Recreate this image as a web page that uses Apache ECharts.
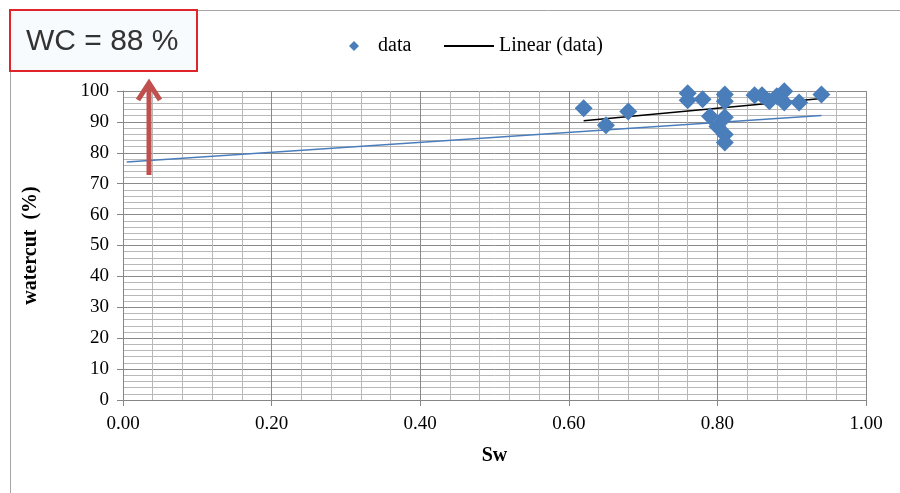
<!DOCTYPE html>
<html>
<head>
<meta charset="utf-8">
<script src="https://cdn.jsdelivr.net/npm/echarts@6/dist/echarts.min.js"></script>
<style>html,body{margin:0;padding:0;background:#fff;}#c{width:900px;height:493px;}</style>
</head>
<body>
<div id="c"></div>
<script>
// Scatter data (Sw, watercut %)
var swData = [0.62, 0.65, 0.68, 0.76, 0.76, 0.78, 0.79, 0.81, 0.81, 0.80, 0.81, 0.81, 0.81, 0.85, 0.86, 0.87, 0.88, 0.89, 0.89, 0.91, 0.94];
var wcData = [94.4, 88.9, 93.4, 99.3, 97.0, 97.3, 91.8, 98.9, 96.7, 88.5, 91.5, 85.9, 83.3, 98.6, 98.6, 96.7, 98.3, 99.9, 96.3, 96.3, 98.9];
// Linear trend (black) endpoints
var trendSw = [0.62, 0.94];
var trendWc = [90.4, 97.6];
// Blue reference line endpoints
var refSw = [0.005, 0.94];
var refWc = [77.0, 92.1];
// Axis ticks
var xTicks = [0, 0.2, 0.4, 0.6, 0.8, 1.0];
var yTicks = [0, 10, 20, 30, 40, 50, 60, 70, 80, 90, 100];
var annotation = 'WC = 88 %';

var scatterPts = swData.map(function (s, i) { return [s, wcData[i]]; });
var trendPts = trendSw.map(function (s, i) { return [s, trendWc[i]]; });
var refPts = refSw.map(function (s, i) { return [s, refWc[i]]; });

var serif = 'Liberation Serif';
var chart = echarts.init(document.getElementById('c'));
chart.setOption({
  animation: false,
  backgroundColor: '#fff',
  grid: { left: 123, right: 34, top: 91, bottom: 93, containLabel: false },
  legend: [
    {
      data: [{ name: 'data', icon: 'diamond' }],
      left: 344, top: 31, itemWidth: 10, itemHeight: 10,
      textStyle: { fontFamily: serif, fontSize: 20, color: '#000', padding: [0, 0, 0, 14] }
    },
    {
      data: [{ name: 'Linear (data)', icon: 'rect' }],
      left: 439, top: 31, itemWidth: 50, itemHeight: 2,
      textStyle: { fontFamily: serif, fontSize: 20, color: '#000' }
    }
  ],
  xAxis: {
    type: 'value', min: xTicks[0], max: xTicks[xTicks.length - 1], interval: 0.2,
    name: 'Sw', nameLocation: 'middle', nameGap: 46,
    nameTextStyle: { fontFamily: serif, fontSize: 20, fontWeight: 'bold', color: '#000' },
    axisLine: { show: true, lineStyle: { color: '#868686', width: 1 } },
    axisTick: { show: true, length: 6, lineStyle: { color: '#868686' } },
    axisLabel: { fontFamily: serif, fontSize: 19, color: '#000', margin: 15,
      formatter: function (v) { return v.toFixed(2); } },
    splitLine: { show: true, lineStyle: { color: '#8a8a8a', width: 1 } },
    minorTick: { show: false, splitNumber: 5 },
    minorSplitLine: { show: true, lineStyle: { color: '#b8b8b8', width: 1 } }
  },
  yAxis: {
    type: 'value', min: yTicks[0], max: yTicks[yTicks.length - 1], interval: 10,
    name: 'watercut  (%)', nameLocation: 'middle', nameGap: 82, nameRotate: 90,
    nameTextStyle: { fontFamily: serif, fontSize: 20, fontWeight: 'bold', color: '#000' },
    axisLine: { show: true, lineStyle: { color: '#868686', width: 1 } },
    axisTick: { show: true, length: 6, lineStyle: { color: '#868686' } },
    axisLabel: { fontFamily: serif, fontSize: 19, color: '#000', margin: 14 },
    splitLine: { show: true, lineStyle: { color: '#8a8a8a', width: 1 } },
    minorTick: { show: false, splitNumber: 5 },
    minorSplitLine: { show: true, lineStyle: { color: '#b8b8b8', width: 1 } }
  },
  series: [
    {
      name: 'ref', type: 'line', data: refPts, showSymbol: false, symbol: 'none',
      lineStyle: { color: '#4a7ebb', width: 1.5 }, z: 3, silent: true
    },
    {
      name: 'Linear (data)', type: 'line', data: trendPts, showSymbol: false, symbol: 'none',
      itemStyle: { color: '#000' },
      lineStyle: { color: '#000', width: 1.5 }, z: 4
    },
    {
      name: 'data', type: 'scatter', data: scatterPts, symbol: 'diamond', symbolSize: 18,
      itemStyle: { color: '#4a7ebb', opacity: 1 }, z: 5
    }
  ],
  graphic: [
    { type: 'line', shape: { x1: 197, y1: 10.5, x2: 900, y2: 10.5 }, style: { stroke: '#a6a6a6', lineWidth: 1 }, silent: true },
    { type: 'line', shape: { x1: 10.5, y1: 71, x2: 10.5, y2: 493 }, style: { stroke: '#a6a6a6', lineWidth: 1 }, silent: true },
    { type: 'rect', shape: { x: 10, y: 10, width: 187, height: 61 }, style: { fill: '#f8fbfd', stroke: '#e0242c', lineWidth: 2 }, z: 10 },
    { type: 'text', left: 26, top: 27, style: { text: annotation, fontFamily: 'Liberation Sans', fontSize: 30, fill: '#333' }, z: 11 },
    { type: 'line', shape: { x1: 149, y1: 85, x2: 149, y2: 175 }, style: { stroke: '#c0504d', lineWidth: 5 }, z: 11 },
    { type: 'polyline', shape: { points: [[138, 100], [149, 83], [160, 100]] }, style: { stroke: '#c0504d', lineWidth: 5, fill: null, lineJoin: 'miter' }, z: 11 }
  ]
});
</script>
</body>
</html>
